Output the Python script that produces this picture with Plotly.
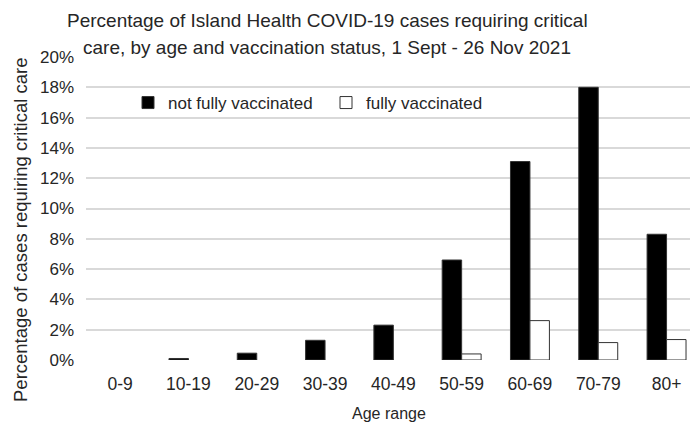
import plotly.graph_objects as go

ages = ["0-9", "10-19", "20-29", "30-39", "40-49", "50-59", "60-69", "70-79", "80+"]
not_fully = [0.0, 0.1, 0.45, 1.3, 2.3, 6.6, 13.1, 18.0, 8.3]
fully = [0.0, 0.0, 0.0, 0.0, 0.0, 0.4, 2.6, 1.15, 1.35]
yticks = [0, 2, 4, 6, 8, 10, 12, 14, 16, 18, 20]
title_lines = ["Percentage of Island Health COVID-19 cases requiring critical",
               "care, by age and vaccination status, 1 Sept - 26 Nov 2021"]

FONT = "Liberation Sans, Arial"
TXT = "#262626"

def shown(vals):
    return [v if v > 0 else None for v in vals]

xs = list(range(len(ages)))
fig = go.Figure()
fig.add_trace(go.Bar(x=xs, y=shown(not_fully), name="not fully vaccinated",
                     marker=dict(color="black", line=dict(color="#333", width=1))))
fig.add_trace(go.Bar(x=xs, y=shown(fully), name="fully vaccinated",
                     marker=dict(color="white", line=dict(color="#333", width=1))))

W, H = 690, 424
PL, PW, PT, PH = 86, 604, 57, 303

def px_x(p):
    return (p - PL) / PW

def px_y(p):
    return (PT + PH - p) / PH

annos = [
    dict(text=title_lines[0], x=px_x(327), y=px_y(21)),
    dict(text=title_lines[1], x=px_x(327), y=px_y(47)),
]
annotations = [dict(xref="paper", yref="paper", xanchor="center", yanchor="middle", showarrow=False,
                    font=dict(family=FONT, size=19, color=TXT), **a) for a in annos]
annotations.append(dict(text="Age range", x=px_x(389), y=px_y(413), xref="paper", yref="paper",
                        xanchor="center", yanchor="middle", showarrow=False,
                        font=dict(family=FONT, size=16, color=TXT)))
annotations.append(dict(text="Percentage of cases requiring critical care", x=px_x(20), y=px_y(230),
                        xref="paper", yref="paper", xanchor="center", yanchor="middle", showarrow=False,
                        textangle=-90, font=dict(family=FONT, size=18.5, color=TXT)))

fig.update_layout(
    width=W, height=H,
    margin=dict(l=PL, r=W - PL - PW, t=PT, b=H - PT - PH, autoexpand=False),
    plot_bgcolor="white", paper_bgcolor="white",
    barmode="group", bargap=0.43, bargroupgap=0,
    font=dict(family=FONT, size=16, color=TXT),
    annotations=annotations,
    legend=dict(orientation="h", x=px_x(128), xanchor="left", y=px_y(103), yanchor="middle",
                bgcolor="rgba(0,0,0,0)", font=dict(size=17, color=TXT), entrywidth=153, entrywidthmode="pixels",
                traceorder="normal"),
    showlegend=True,
)
fig.update_xaxes(tickmode="array", tickvals=xs, ticktext=ages,
                 range=[-0.5, -0.5 + PW / 68.3], showgrid=False, zeroline=False,
                 showline=False, ticks="", tickfont=dict(size=17.5, color=TXT), automargin=False,
                 ticklabelstandoff=11)
fig.update_yaxes(range=[0, 20], tickvals=yticks, ticktext=[f"{v}%" for v in yticks],
                 showgrid=True, gridcolor="#d9d9d9", gridwidth=1.5, zeroline=False,
                 showline=False, ticks="", tickfont=dict(size=17, color=TXT), automargin=False,
                 ticklabelstandoff=11)

fig.write_html("out.html", config={"displayModeBar": False},
               post_script="document.body.style.margin='0';")
